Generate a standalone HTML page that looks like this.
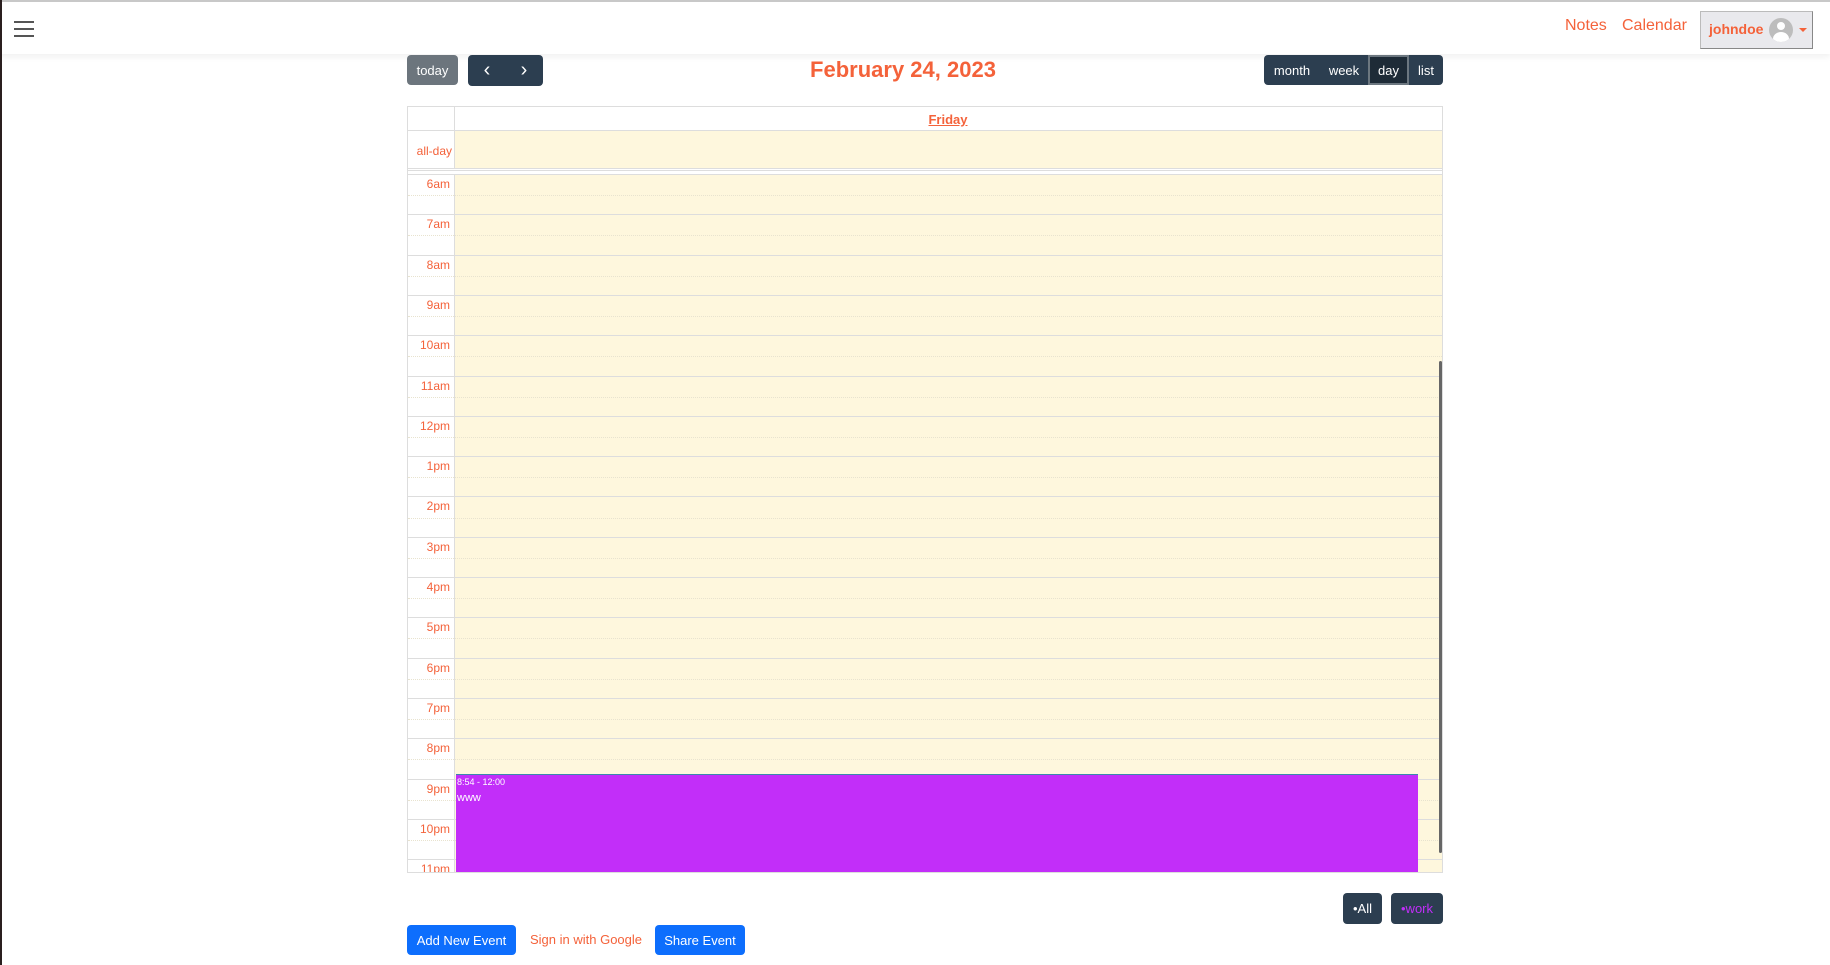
<!DOCTYPE html>
<html><head><meta charset="utf-8">
<style>
*{box-sizing:border-box;margin:0;padding:0}
body{width:1830px;height:965px;overflow:hidden;background:#fff;font-family:"Liberation Sans",sans-serif;position:relative}
.abs{position:absolute}
.nav{left:0;top:0;width:1830px;height:54px;border-top:2px solid #c8c8c8;box-shadow:0 3px 6px rgba(0,0,0,.06);background:#fff}
.ham span{position:absolute;left:0;width:20px;height:2px;background:#555}
.orange{color:#f4623a}
.btn{position:absolute;border-radius:4px;color:#fff;font-size:13px;display:flex;align-items:center;justify-content:center}
.dark{background:#2c3e50}
.blue{background:#0d6efd}
</style></head><body>
<div class="abs nav">
  <div class="abs ham" style="left:14px;top:19px;width:20px;height:18px">
    <span style="top:0"></span><span style="top:7px"></span><span style="top:14px"></span>
  </div>
  <div class="abs orange" style="left:1565px;top:15px;font-size:16px">Notes</div>
  <div class="abs orange" style="left:1622px;top:15px;font-size:16px">Calendar</div>
  <div class="abs" style="left:1700px;top:9px;width:113px;height:38px;background:#e9e9ed;border:1px solid #bbb;border-right-color:#888;border-bottom-color:#888">
    <span class="abs orange" style="left:8px;top:9px;font-size:14px;font-weight:bold">johndoe</span>
    <span class="abs" style="left:68px;top:6px;width:24px;height:24px;border-radius:50%;background:#bdbdbd;overflow:hidden">
      <span class="abs" style="left:8px;top:4px;width:8px;height:8px;border-radius:50%;background:#fff"></span>
      <span class="abs" style="left:4px;top:14px;width:16px;height:14px;border-radius:50%;background:#fff"></span>
    </span>
    <span class="abs" style="left:98px;top:16px;border-left:4px solid transparent;border-right:4px solid transparent;border-top:4px solid #f4623a"></span>
  </div>
</div>
<div class="abs" style="left:0;top:0;width:2px;height:965px;background:#2a1f1f"></div>

<div class="btn" style="left:407px;top:55px;width:51px;height:30px;background:#6c757d">today</div>
<div class="btn dark" style="left:468px;top:55px;width:75px;height:31px">
  <span style="width:37px;text-align:center;font-size:20px">‹</span>
  <span style="width:37px;text-align:center;font-size:20px">›</span>
</div>
<div class="abs orange" style="left:703px;top:57px;width:400px;text-align:center;font-size:22px;font-weight:bold">February 24, 2023</div>
<div class="abs dark" style="left:1264px;top:55px;width:179px;height:30px;border-radius:4px;display:flex;color:#fff;font-size:13px">
  <span style="width:56px;display:flex;align-items:center;justify-content:center">month</span>
  <span style="width:48px;display:flex;align-items:center;justify-content:center">week</span>
  <span style="width:41px;display:flex;align-items:center;justify-content:center;background:#1e2b37;border:2px solid #6c7780">day</span>
  <span style="width:34px;display:flex;align-items:center;justify-content:center">list</span>
</div>

<div id="cal" class="abs" style="left:407px;top:106px;width:1036px;height:767px;border:1px solid #ddd;overflow:hidden">
  <div class="abs" style="left:0;top:0;width:1034px;height:24px;border-bottom:1px solid #ddd">
    <div class="abs" style="left:46px;width:1px;height:24px;background:#ddd"></div>
    <div class="abs orange" style="left:46px;width:988px;top:5px;text-align:center;font-size:13px;font-weight:bold;text-decoration:underline">Friday</div>
  </div>
  <div class="abs" style="left:0;top:24px;width:1034px;height:40px;border-bottom:3px double #ddd">
    <div class="abs orange" style="left:0;width:44px;top:13px;text-align:right;font-size:12px">all-day</div>
    <div class="abs" style="left:46px;top:0;width:988px;height:37px;background:#fef7dd;border-left:1px solid #ddd"></div>
  </div>
  <div id="slots" class="abs" style="left:0;top:67px;width:1034px;height:700px"></div>
  <div class="abs" style="left:1031px;top:254px;width:3px;height:492px;background:#666;border-radius:2px"></div>
</div>

<div class="btn dark" style="left:1343px;top:893px;width:39px;height:31px">•All</div>
<div class="btn dark" style="left:1391px;top:893px;width:52px;height:31px;color:#c22ef9">•work</div>
<div class="btn blue" style="left:407px;top:925px;width:109px;height:30px">Add New Event</div>
<div class="abs orange" style="left:530px;top:932px;font-size:13px">Sign in with Google</div>
<div class="btn blue" style="left:655px;top:925px;width:90px;height:30px">Share Event</div>

<script>
const hourLabels=["6am","7am","8am","9am","10am","11am","12pm","1pm","2pm","3pm","4pm","5pm","6pm","7pm","8pm","9pm","10pm","11pm"];
const startHour=6;
const eventStarts=[20.9];
const eventEnds=[24];
const eventTimes=["8:54 - 12:00"];
const eventTitles=["www"];
const hourH=40.3;
const slots=document.getElementById('slots');
function yOf(h){return (h-startHour)*hourH;}
hourLabels.forEach((lab,i)=>{
  const row=document.createElement('div');
  
  
  row.className='abs';
  row.style.cssText=`left:0;top:${yOf(startHour+i)}px;width:1034px;height:${hourH}px;border-top:1px solid #ddd`;
  row.innerHTML=`<div class="abs orange" style="left:0;width:42px;top:2px;text-align:right;font-size:12px">${lab}</div>
  <div class="abs" style="left:46px;top:0;width:988px;height:${hourH}px;background:#fef7dd;border-left:1px solid #ddd"></div>
  <div class="abs" style="left:0;top:${hourH/2}px;width:1034px;border-top:1px dotted #e8e3cf"></div>`;
  slots.appendChild(row);
});
eventStarts.forEach((s,i)=>{
  const ev=document.createElement('div');
  
  
  ev.className='abs';
  ev.style.cssText=`left:48px;top:${yOf(s)}px;width:962px;height:${yOf(eventEnds[i])-yOf(s)}px;background:#c22ef9;border-top:1px solid #3a87ad;color:#fff;padding:2px 1px`;
  ev.innerHTML=`<div style="font-size:9px">${eventTimes[i]}</div><div style="font-size:11px;margin-top:5px">${eventTitles[i]}</div>`;
  slots.appendChild(ev);
});
</script>
</body></html>
